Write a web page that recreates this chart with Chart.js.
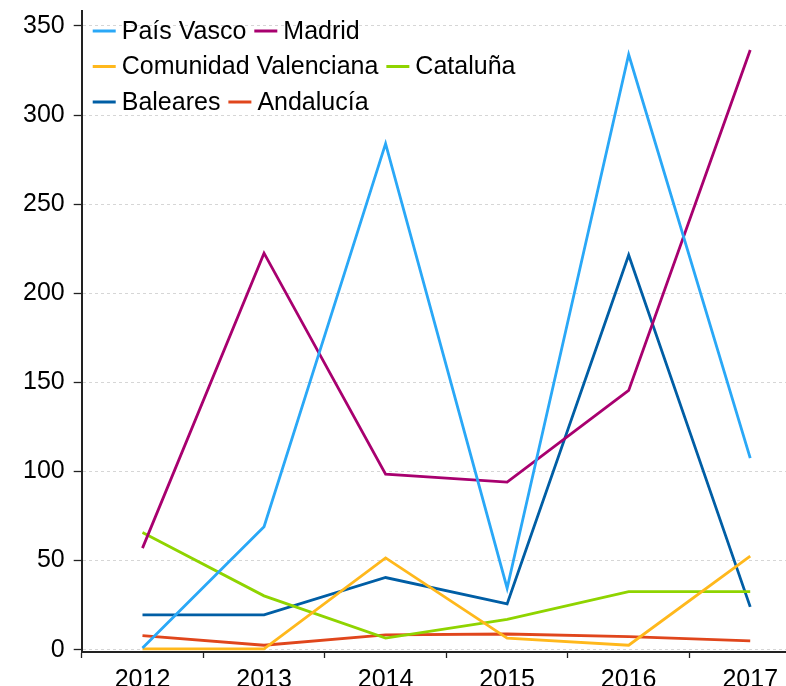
<!DOCTYPE html>
<html>
<head>
<meta charset="utf-8">
<script src="https://cdn.jsdelivr.net/npm/chart.js@4/dist/chart.umd.min.js"></script>
<style>
  html, body { margin: 0; padding: 0; background: #fff; }
  #wrap { position: relative; width: 786px; height: 686px; overflow: hidden; }
  #chart { display: block; }
</style>
</head>
<body>
<div id="wrap"><canvas id="chart" width="830" height="702"></canvas></div>
<script>
/* ====== Datos ====== */
const years = ["2012", "2013", "2014", "2015", "2016", "2017"];

const paisVasco = [1, 69, 284, 34.5, 334, 107.5];
const madrid = [57, 222.5, 98.5, 94, 145.5, 336.5];
const comValenciana = [0.5, 0.5, 51.5, 6.5, 2.5, 52.5];
const cataluna = [65.8, 30.2, 6.5, 17, 32.6, 32.6];
const baleares = [19.5, 19.5, 40.5, 25.7, 221.5, 24];
const andalucia = [7.9, 2.5, 8.3, 8.8, 7.3, 4.9];

const yTicks = [0, 50, 100, 150, 200, 250, 300, 350];

/* ====== Helpers ====== */
const serie = (label, data, color) => ({
  label,
  data,
  borderColor: color,
  backgroundColor: color,
  borderWidth: 2.8,
  pointRadius: 0,
  tension: 0,
});

// Leyenda dentro del área del gráfico, arriba a la izquierda
const legendLines = {
  id: "legendLines",
  afterDraw(chart) {
    const { ctx, chartArea } = chart;
    const x0 = chartArea.left + 11;
    const maxX = chartArea.left + 460;
    let x = x0;
    let y = chartArea.top + 20;

    ctx.save();
    ctx.font = '25px "Liberation Sans", Arial, sans-serif';
    ctx.textBaseline = "middle";

    chart.data.datasets.forEach((ds) => {
      const w = 23 + 6 + ctx.measureText(ds.label).width;
      if (x !== x0 && x + w > maxX) {
        x = x0;
        y += 35.5;
      }
      ctx.strokeStyle = ds.borderColor;
      ctx.lineWidth = 3;
      ctx.beginPath();
      ctx.moveTo(x, y);
      ctx.lineTo(x + 23, y);
      ctx.stroke();

      ctx.fillStyle = "#000";
      ctx.fillText(ds.label, x + 29, y + 1);
      x += w + 8;
    });

    ctx.restore();
  },
};

/* ========= Chart ========= */
Chart.defaults.font.family = '"Liberation Sans", Arial, sans-serif';
Chart.defaults.color = "#000";

new Chart(document.getElementById("chart"), {
  type: "line",
  data: {
    labels: years,
    datasets: [
      serie("País Vasco", paisVasco, "#2aa8f7"),
      serie("Madrid", madrid, "#a8006f"),
      serie("Comunidad Valenciana", comValenciana, "#ffb81c"),
      serie("Cataluña", cataluna, "#8fd400"),
      serie("Baleares", baleares, "#005ea5"),
      serie("Andalucía", andalucia, "#e0461c"),
    ],
  },
  options: {
    responsive: false,
    devicePixelRatio: 1,
    animation: false,
    layout: { padding: { left: 14, right: 19, top: 11, bottom: 0 } },
    plugins: {
      legend: { display: false },
      tooltip: { enabled: false },
    },
    scales: {
      x: {
        offset: true,
        grid: {
          offset: true,
          drawOnChartArea: false,
          tickLength: 6,
          tickColor: "#222",
          tickWidth: 1.3,
        },
        border: { color: "#222", width: 2 },
        ticks: { font: { size: 25 }, padding: 7, color: "#000" },
        afterFit: (s) => {
          s.paddingLeft = 0;
          s.paddingRight = 0;
        },
      },
      y: {
        min: -1.3,
        max: 358.4,
        ticks: {
          stepSize: 50,
          font: { size: 25 },
          padding: 9,
          color: "#000",
        },
        afterBuildTicks: (axis) => {
          axis.ticks = yTicks.map((v) => ({ value: v }));
        },
        afterFit: (s) => {
          s.paddingTop = 0;
          s.paddingBottom = 0;
        },
        grid: {
          color: "#d6d6d6",
          lineWidth: 1,
          tickLength: 8,
          tickColor: "#222",
          tickWidth: 1.3,
        },
        border: { color: "#222", width: 2, dash: [3, 3] },
      },
    },
  },
  plugins: [legendLines],
});
</script>
</body>
</html>
